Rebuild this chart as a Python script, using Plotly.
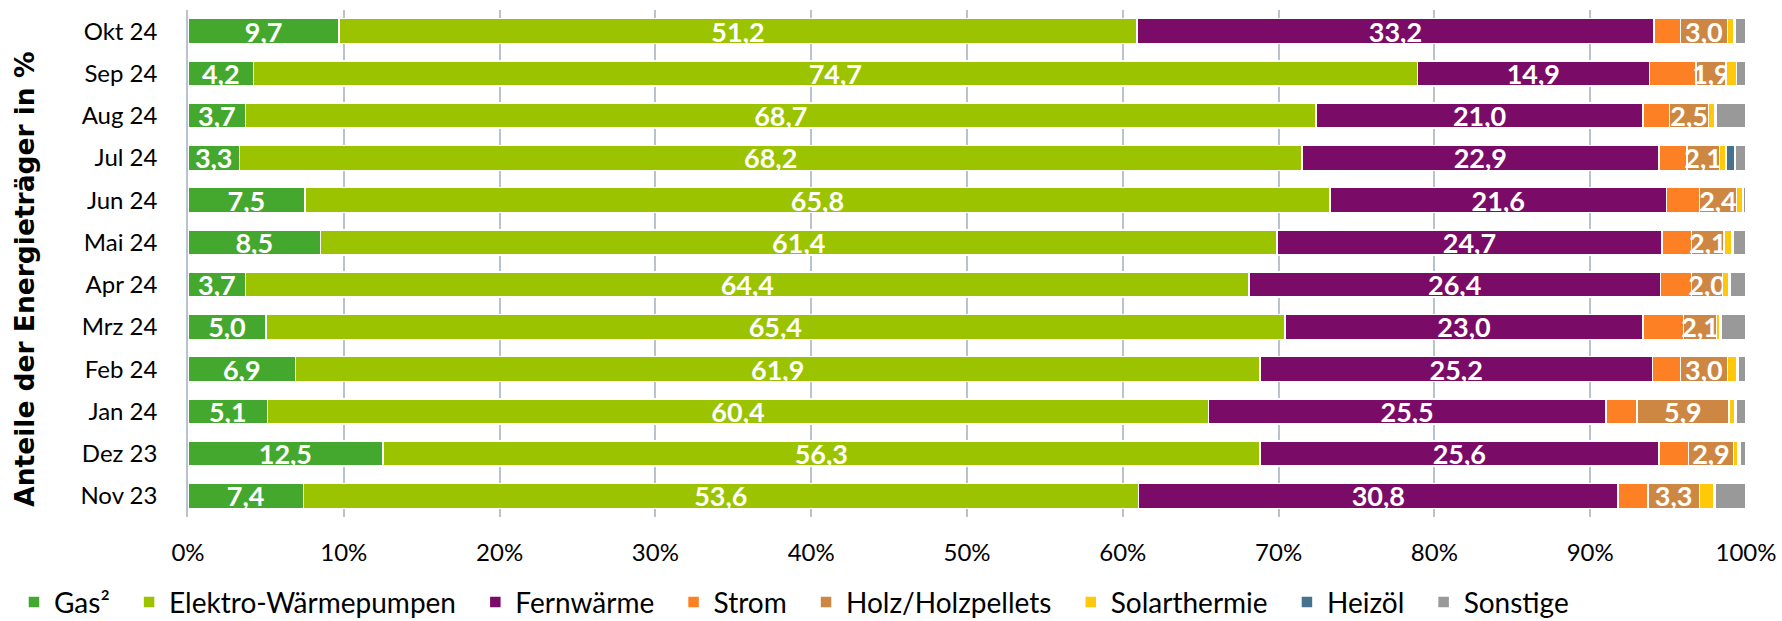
import plotly.graph_objects as go

months = ["Nov 23", "Dez 23", "Jan 24", "Feb 24", "Mrz 24", "Apr 24",
          "Mai 24", "Jun 24", "Jul 24", "Aug 24", "Sep 24", "Okt 24"]

gas      = [7.4, 12.5, 5.1, 6.9, 5.0, 3.7, 8.5, 7.5, 3.3, 3.7, 4.2, 9.7]
elektro  = [53.6, 56.3, 60.4, 61.9, 65.4, 64.4, 61.4, 65.8, 68.2, 68.7, 74.7, 51.2]
fernw    = [30.8, 25.6, 25.5, 25.2, 23.0, 26.4, 24.7, 21.6, 22.9, 21.0, 14.9, 33.2]
strom    = [1.9, 1.9, 2.0, 1.8, 2.6, 2.0, 1.9, 2.1, 1.8, 1.7, 3.0, 1.7]
holz     = [3.3, 2.9, 5.9, 3.0, 2.1, 2.0, 2.1, 2.4, 2.1, 2.5, 1.9, 3.0]
solar    = [0.9, 0.3, 0.4, 0.6, 0.2, 0.4, 0.5, 0.4, 0.4, 0.4, 0.7, 0.4]
heizoel  = [0.1, 0.1, 0.1, 0.1, 0.1, 0.1, 0.1, 0.0, 0.6, 0.1, 0.0, 0.1]
sonstige = [2.0, 0.4, 0.6, 0.5, 1.6, 1.0, 0.8, 0.2, 0.7, 1.9, 0.6, 0.7]

x_tick_vals = [0, 10, 20, 30, 40, 50, 60, 70, 80, 90, 100]
x_tick_text = ["0%", "10%", "20%", "30%", "40%", "50%", "60%", "70%", "80%", "90%", "100%"]

series = [
    ("Gas²", gas, "#45a82e", True),
    ("Elektro-Wärmepumpen", elektro, "#9bc300", True),
    ("Fernwärme", fernw, "#7a0c68", True),
    ("Strom", strom, "#fd8124", False),
    ("Holz/Holzpellets", holz, "#cd8742", True),
    ("Solarthermie", solar, "#ffc90a", False),
    ("Heizöl", heizoel, "#46718f", False),
    ("Sonstige", sonstige, "#999999", False),
]

FONT = "Lato"
PAD = "\u00a0\u00a0"

fig = go.Figure()
for name, vals, color, labelled in series:
    fig.add_trace(go.Bar(
        y=months, x=vals, name=name + PAD, orientation="h",
        marker=dict(color=color, line=dict(color="white", width=1.5)),
        text=[f"{v:.1f}".replace(".", ",") for v in vals] if labelled else None,
        textposition="inside" if labelled else "none",
        insidetextanchor="middle",
        constraintext="none",
        textangle=0,
        textfont=dict(family=FONT, size=27, color="white", weight="bold"),
        hoverinfo="skip",
    ))

fig.update_layout(
    barmode="stack",
    bargap=0.41,
    width=1782, height=621,
    margin=dict(l=188, r=36, t=10, b=104, autoexpand=False),
    plot_bgcolor="white", paper_bgcolor="white",
    font=dict(family=FONT, size=24, color="#000000"),
    showlegend=True,
    legend=dict(orientation="h", x=-0.1117, xanchor="left", y=-0.119, yanchor="top",
                font=dict(family=FONT, size=28, color="#000000"),
                traceorder="normal", itemclick=False, itemdoubleclick=False),
    xaxis=dict(range=[0, 100], tickvals=x_tick_vals, ticktext=x_tick_text,
               showgrid=True, gridcolor="#b9c3cd", gridwidth=1.5,
               zeroline=False, showline=False, ticks="", ticklabelstandoff=19,
               fixedrange=True, automargin=False),
    yaxis=dict(showgrid=False, zeroline=False, ticks="", showline=True,
               linecolor="#b9c3cd", linewidth=1.5, ticklabelstandoff=24,
               fixedrange=True, automargin=False),
    annotations=[dict(
        text="<b>Anteile der Energieträger in %</b>", textangle=-90,
        xref="paper", yref="paper", x=-0.1046, y=0.468,
        xanchor="center", yanchor="middle", showarrow=False,
        font=dict(family="DejaVu Sans", size=26.5, color="#000000"),
    )],
)

fig.write_html("out.html",
               config={"displayModeBar": False},
               post_script="document.body.style.margin='0';document.body.style.overflow='hidden';")
